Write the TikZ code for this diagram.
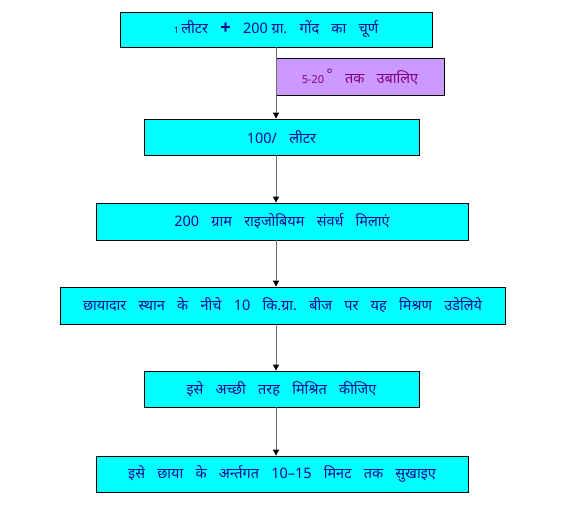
\documentclass[tikz,border=0pt]{standalone}
\usepackage{fontspec}
\setmainfont{Noto Sans}[Script=Devanagari]
\newfontfamily\plusfont{Liberation Sans}
\usetikzlibrary{arrows.meta}
\definecolor{boxcyan}{RGB}{0,255,255}
\definecolor{boxpurple}{RGB}{204,153,255}
\definecolor{txtblue}{RGB}{10,10,150}
\definecolor{txtpurple}{RGB}{128,0,128}
\definecolor{lingray}{RGB}{110,110,110}
\tikzset{
  stepbox/.style={draw=black, line width=0.8pt, fill=boxcyan, text=txtblue,
    inner sep=0pt, font=\fontsize{14.5}{16}\selectfont, anchor=center},
  notebox/.style={stepbox, fill=boxpurple, text=txtpurple},
  conn/.style={draw=lingray, line width=0.8pt, -{Triangle[black,length=6pt,width=6pt]}},
}
\newcommand{\wsp}{\hspace{0.85em}}
\begin{document}
\begin{tikzpicture}[x=1bp,y=-1bp]
\useasboundingbox (0,0) rectangle (565,529);
\node[stepbox, minimum width=312bp, minimum height=35bp] (b1) at (276,29.5)
  {{\fontsize{9}{10}\selectfont 1}\,लीटर\wsp{\plusfont\fontsize{18}{18}\selectfont\bfseries +}\wsp200 ग्रा.\wsp गोंद\wsp का\wsp चूर्ण};
\node[notebox, minimum width=168bp, minimum height=37bp] (n1) at (360,76.5)
  {{\fontsize{11}{12}\selectfont 5-20}\,\raisebox{4pt}{°}\wsp तक\wsp उबालिए};
\node[stepbox, minimum width=275bp, minimum height=36bp] (b2) at (281.5,137)
  {100/\wsp लीटर};
\node[stepbox, minimum width=372bp, minimum height=37bp] (b3) at (282,221.5)
  {200\wsp ग्राम\wsp राइजोबियम\wsp संवर्ध\wsp मिलाएं};
\node[stepbox, minimum width=445bp, minimum height=37bp] (b4) at (282.5,305.5)
  {छायादार\wsp स्थान\wsp के\wsp नीचे\wsp 10\wsp कि.ग्रा.\wsp बीज\wsp पर\wsp यह\wsp मिश्रण\wsp उडेलिये};
\node[stepbox, minimum width=275bp, minimum height=36bp] (b5) at (281.5,389)
  {इसे\wsp अच्छी\wsp तरह\wsp मिश्रित\wsp कीजिए};
\node[stepbox, minimum width=372bp, minimum height=36bp] (b6) at (282,474)
  {इसे\wsp छाया\wsp के\wsp अर्न्तगत\wsp 10--15\wsp मिनट\wsp तक\wsp सुखाइए};
\draw[conn] (b1.south) -- (b1.south |- b2.north);
\draw[conn] (b1.south |- b2.south) -- (b1.south |- b3.north);
\draw[conn] (b1.south |- b3.south) -- (b1.south |- b4.north);
\draw[conn] (b1.south |- b4.south) -- (b1.south |- b5.north);
\draw[conn] (b1.south |- b5.south) -- (b1.south |- b6.north);
\end{tikzpicture}
\end{document}
